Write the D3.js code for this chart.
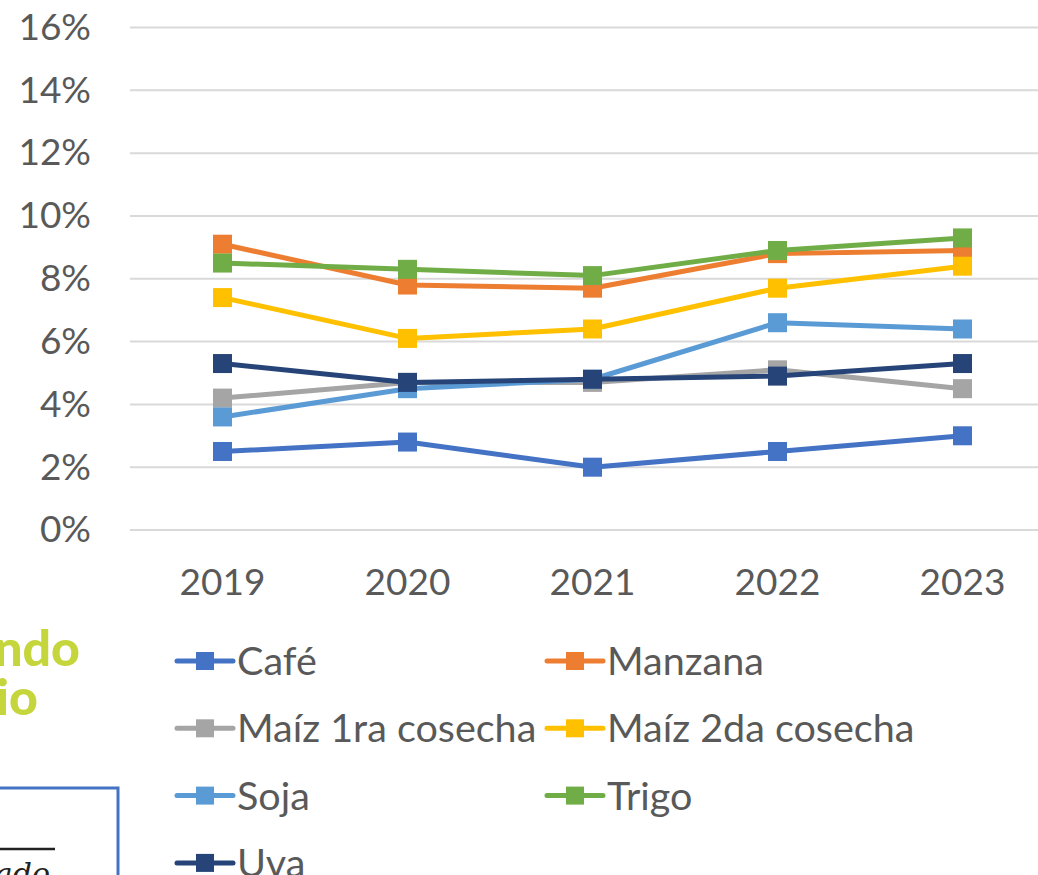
<!DOCTYPE html>
<html>
<head>
<meta charset="utf-8">
<script src="https://cdn.jsdelivr.net/npm/d3@7"></script>
<style>
  body { margin: 0; background: #fff; overflow: hidden; }
  svg { display: block; }
</style>
</head>
<body>
<div id="container"></div>
<script>
/* CONSTANTS AND GLOBALS */
const width = 1038,
      height = 875;

// plot area (the right edge runs past the cropped picture)
const plot = {left: 130, right: 1055, top: 27.5, bottom: 530};

const fontFamily = "Lato, 'Open Sans', sans-serif";
const textColor = "#595959";

/* DATA */
const years = ["2019", "2020", "2021", "2022", "2023"];
const yTicks = [0, 2, 4, 6, 8, 10, 12, 14, 16];

const seriesNames = ["Café", "Manzana", "Maíz 1ra cosecha", "Maíz 2da cosecha", "Soja", "Trigo", "Uva"];
const seriesColors = ["#4472C4", "#ED7D31", "#A5A5A5", "#FFC000", "#5B9BD5", "#70AD47", "#264478"];

const cafe     = [2.5, 2.8, 2.0, 2.5, 3.0];
const manzana  = [9.1, 7.8, 7.7, 8.8, 8.9];
const maiz1ra  = [4.2, 4.7, 4.7, 5.1, 4.5];
const maiz2da  = [7.4, 6.1, 6.4, 7.7, 8.4];
const soja     = [3.6, 4.5, 4.8, 6.6, 6.4];
const trigo    = [8.5, 8.3, 8.1, 8.9, 9.3];
const uva      = [5.3, 4.7, 4.8, 4.9, 5.3];

const seriesValues = [cafe, manzana, maiz1ra, maiz2da, soja, trigo, uva];

const series = seriesNames.map((name, i) => ({
  name: name,
  color: seriesColors[i],
  values: seriesValues[i].map((v, j) => ({year: years[j], value: v}))
}));

/* SCALES */
const xScale = d3.scaleBand()
  .domain(years)
  .range([plot.left, plot.right])
  .padding(0);

const yScale = d3.scaleLinear()
  .domain([0, 16])
  .range([plot.bottom, plot.top]);

const xPos = d => xScale(d) + xScale.bandwidth() / 2;

/* CREATE SVG ELEMENT */
const svg = d3.select("#container")
  .append("svg")
  .attr("width", width)
  .attr("height", height)
  .style("font-family", fontFamily);

// GRIDLINES
svg.append("g")
  .selectAll("line")
  .data(yTicks)
  .join("line")
  .attr("x1", plot.left)
  .attr("x2", plot.right)
  .attr("y1", d => yScale(d))
  .attr("y2", d => yScale(d))
  .attr("stroke", "#D9D9D9")
  .attr("stroke-width", 2);

// Y AXIS (labels only)
const yAxis = d3.axisLeft(yScale)
  .tickValues(yTicks)
  .tickFormat(d => d + "%")
  .tickSize(0)
  .tickPadding(39);

svg.append("g")
  .attr("class", "yAxis")
  .attr("transform", `translate(${plot.left}, 0)`)
  .call(yAxis)
  .call(g => g.select(".domain").remove())
  .selectAll("text")
  .attr("fill", textColor)
  .style("font-size", "37px")
  .style("font-family", fontFamily);

// X AXIS (labels only)
const xAxis = d3.axisBottom(xScale)
  .tickSize(0)
  .tickPadding(39);

svg.append("g")
  .attr("class", "xAxis")
  .attr("transform", `translate(0, ${plot.bottom})`)
  .call(xAxis)
  .call(g => g.select(".domain").remove())
  .selectAll("text")
  .attr("fill", textColor)
  .style("font-size", "37px")
  .style("font-family", fontFamily);

// LINE GENERATOR FUNCTION
const lineGen = d3.line()
  .x(d => xPos(d.year))
  .y(d => yScale(d.value));

const markerSize = 19;

// DRAW LINES + MARKERS (series drawn in order, Uva on top)
const seriesG = svg.selectAll("g.series")
  .data(series)
  .join("g")
  .attr("class", "series");

seriesG.append("path")
  .attr("fill", "none")
  .attr("stroke", d => d.color)
  .attr("stroke-width", 5)
  .attr("stroke-linejoin", "round")
  .attr("d", d => lineGen(d.values));

seriesG.selectAll("rect")
  .data(d => d.values.map(v => ({...v, color: d.color})))
  .join("rect")
  .attr("x", d => xPos(d.year) - markerSize / 2)
  .attr("y", d => yScale(d.value) - markerSize / 2)
  .attr("width", markerSize)
  .attr("height", markerSize)
  .attr("fill", d => d.color);

// LEGEND
const legendCols = [177, 547];
const legendTop = 661,
      legendRow = 67.3;

const legend = svg.append("g")
  .selectAll("g")
  .data(series)
  .join("g")
  .attr("transform", (d, i) => `translate(${legendCols[i % 2]}, ${legendTop + Math.floor(i / 2) * legendRow})`);

legend.append("line")
  .attr("x1", 0)
  .attr("x2", 56)
  .attr("stroke", d => d.color)
  .attr("stroke-width", 5)
  .attr("stroke-linecap", "round");

legend.append("rect")
  .attr("x", 28 - 9)
  .attr("y", -9)
  .attr("width", 18)
  .attr("height", 18)
  .attr("fill", d => d.color);

legend.append("text")
  .attr("x", 60)
  .attr("y", 14)
  .attr("fill", textColor)
  .style("font-size", "39.5px")
  .text(d => d.name);

// bits of the slide showing at the left edge
svg.append("text")
  .attr("x", 80)
  .attr("y", 666)
  .attr("text-anchor", "end")
  .attr("fill", "#C5D63D")
  .style("font-size", "50px")
  .style("font-weight", 900)
  .text("ndo");

svg.append("text")
  .attr("x", 38)
  .attr("y", 715)
  .attr("text-anchor", "end")
  .attr("fill", "#C5D63D")
  .style("font-size", "50px")
  .style("font-weight", 900)
  .text("io");

svg.append("rect")
  .attr("x", -10)
  .attr("y", 788)
  .attr("width", 128)
  .attr("height", 120)
  .attr("fill", "none")
  .attr("stroke", "#4472C4")
  .attr("stroke-width", 3);

svg.append("line")
  .attr("x1", 0)
  .attr("x2", 55)
  .attr("y1", 849)
  .attr("y2", 849)
  .attr("stroke", "#222")
  .attr("stroke-width", 2.5);

svg.append("text")
  .attr("x", 50)
  .attr("y", 884)
  .attr("text-anchor", "end")
  .attr("fill", "#222")
  .style("font-family", "'DejaVu Serif', serif")
  .style("font-style", "italic")
  .style("font-size", "30px")
  .text("ado");
</script>
</body>
</html>
